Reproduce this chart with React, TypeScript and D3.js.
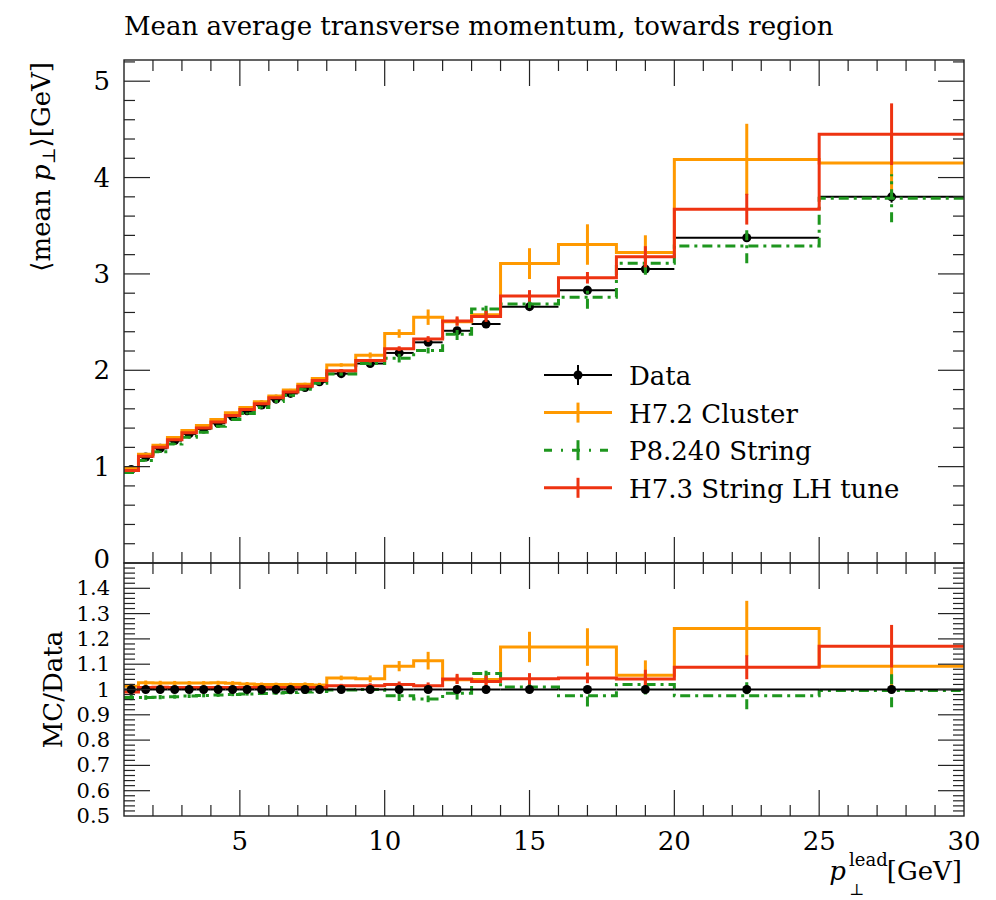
import React from "react";
import * as d3 from "d3";

// ---------- data ----------
const binEdges = [1, 1.5, 2, 2.5, 3, 3.5, 4, 4.5, 5, 5.5, 6, 6.5, 7, 7.5, 8, 9, 10, 11, 12, 13, 14, 16, 18, 20, 25, 30];

const dataValues = [0.97, 1.10, 1.19, 1.27, 1.34, 1.39, 1.45, 1.52, 1.58, 1.64, 1.70, 1.76, 1.82, 1.88, 1.965, 2.07, 2.18, 2.29, 2.41, 2.48, 2.66, 2.83, 3.05, 3.375, 3.80];
const dataErrors = [0.01, 0.008, 0.008, 0.008, 0.008, 0.008, 0.008, 0.008, 0.008, 0.008, 0.01, 0.01, 0.01, 0.01, 0.01, 0.012, 0.015, 0.018, 0.02, 0.022, 0.025, 0.03, 0.035, 0.04, 0.06];

const h72Values = [0.982, 1.129, 1.221, 1.303, 1.375, 1.426, 1.488, 1.558, 1.615, 1.673, 1.734, 1.795, 1.856, 1.914, 2.055, 2.157, 2.381, 2.551, 2.504, 2.577, 3.107, 3.305, 3.221, 4.188, 4.150];
const h72Errors = [0.01, 0.01, 0.01, 0.01, 0.01, 0.01, 0.012, 0.012, 0.012, 0.012, 0.012, 0.012, 0.015, 0.015, 0.018, 0.028, 0.044, 0.08, 0.04, 0.05, 0.16, 0.21, 0.18, 0.37, 0.30];

const p8Values = [0.939, 1.065, 1.154, 1.234, 1.305, 1.357, 1.418, 1.490, 1.552, 1.614, 1.676, 1.739, 1.802, 1.865, 1.961, 2.07, 2.126, 2.205, 2.374, 2.636, 2.687, 2.759, 3.111, 3.291, 3.785];
const p8Errors = [0.01, 0.01, 0.01, 0.01, 0.01, 0.01, 0.01, 0.01, 0.01, 0.01, 0.012, 0.012, 0.012, 0.012, 0.015, 0.02, 0.045, 0.03, 0.06, 0.07, 0.04, 0.12, 0.12, 0.18, 0.25];

const h73Values = [0.960, 1.109, 1.200, 1.280, 1.351, 1.401, 1.462, 1.532, 1.593, 1.653, 1.714, 1.774, 1.835, 1.895, 1.994, 2.101, 2.224, 2.324, 2.511, 2.559, 2.772, 2.960, 3.178, 3.672, 4.450];
const h73Errors = [0.008, 0.008, 0.008, 0.008, 0.008, 0.008, 0.008, 0.008, 0.01, 0.01, 0.01, 0.01, 0.01, 0.01, 0.015, 0.02, 0.025, 0.03, 0.048, 0.057, 0.06, 0.06, 0.11, 0.16, 0.32];

const xTickLabels = [5, 10, 15, 20, 25, 30];
const mainYTickLabels = [0, 1, 2, 3, 4, 5];
const ratioYTickLabels = [0.5, 0.6, 0.7, 0.8, 0.9, 1, 1.1, 1.2, 1.3, 1.4];

const titleText = "Mean average transverse momentum, towards region";
const legendLabels = ["Data", "H7.2 Cluster", "P8.240 String", "H7.3 String LH tune"];

// ---------- layout ----------
const W = 996;
const H = 900;
const L = 124;
const R = 964;
const MT = 60;
const MB = 563;
const RT = 563;
const RB = 816;
const FONT = "DejaVu Serif";
const FS = 26;
const RFS = 21;

const series = [
  { name: legendLabels[1], values: h72Values, errors: h72Errors, color: "#ff9900", dash: "" },
  { name: legendLabels[2], values: p8Values, errors: p8Errors, color: "#1e961e", dash: "10,5,3,5" },
  { name: legendLabels[3], values: h73Values, errors: h73Errors, color: "#ee3311", dash: "" },
];

function stepPath(values: number[], ys: d3.ScaleLinear<number, number>, xs: d3.ScaleLinear<number, number>) {
  const pts: [number, number][] = values.map((v, i) => [binEdges[i], v]);
  pts.push([binEdges[binEdges.length - 1], values[values.length - 1]]);
  const line = d3
    .line<[number, number]>()
    .x((d) => xs(d[0]))
    .y((d) => ys(d[1]))
    .curve(d3.curveStepAfter);
  return line(pts) || "";
}

export default function App() {
  const x = d3.scaleLinear().domain([1, 30]).range([L, R]);
  const y = d3.scaleLinear().domain([0, 5.22]).range([MB, MT]);
  const yr = d3.scaleLinear().domain([0.5, 1.5]).range([RB, RT]);

  const centers = dataValues.map((_, i) => (binEdges[i] + binEdges[i + 1]) / 2);

  const xMinor = d3.range(2, 30).filter((v) => v % 5 !== 0);
  const xMajor = [5, 10, 15, 20, 25];
  const yMinorMain = d3.range(0.2, 5.21, 0.2).filter((v) => Math.abs(v - Math.round(v)) > 0.01);
  const yMajorMain = [1, 2, 3, 4, 5];
  const yMinorRatio = d3.range(0.52, 1.5, 0.02).filter((v) => Math.abs(v * 10 - Math.round(v * 10)) > 0.01);
  const yMajorRatio = d3.range(0.6, 1.45, 0.1);

  const MINOR = 11;
  const MAJOR = 26;
  const tickStroke = "#222";

  const xTicks = (top: number, bottom: number, key: string) => (
    <g key={key} stroke={tickStroke} strokeWidth={1.2}>
      {xMinor.map((v) => (
        <g key={"m" + v}>
          <line x1={x(v)} x2={x(v)} y1={bottom} y2={bottom - MINOR} />
          <line x1={x(v)} x2={x(v)} y1={top} y2={top + MINOR} />
        </g>
      ))}
      {xMajor.map((v) => (
        <g key={"M" + v}>
          <line x1={x(v)} x2={x(v)} y1={bottom} y2={bottom - MAJOR} />
          <line x1={x(v)} x2={x(v)} y1={top} y2={top + MAJOR} />
        </g>
      ))}
    </g>
  );

  const yTicks = (scale: d3.ScaleLinear<number, number>, minor: number[], major: number[], key: string) => (
    <g key={key} stroke={tickStroke} strokeWidth={1.2}>
      {minor.map((v, i) => (
        <g key={"m" + i}>
          <line x1={L} x2={L + MINOR} y1={scale(v)} y2={scale(v)} />
          <line x1={R} x2={R - MINOR} y1={scale(v)} y2={scale(v)} />
        </g>
      ))}
      {major.map((v, i) => (
        <g key={"M" + i}>
          <line x1={L} x2={L + MAJOR} y1={scale(v)} y2={scale(v)} />
          <line x1={R} x2={R - MAJOR} y1={scale(v)} y2={scale(v)} />
        </g>
      ))}
    </g>
  );

  const dataRatio = dataValues.map(() => 1);
  const dataRatioErr = dataErrors.map((e, i) => e / dataValues[i]);

  const legendY0 = 375;
  const legendDy = 37.6;

  return (
    <svg
      width={W}
      height={H}
      viewBox={`0 0 ${W} ${H}`}
      style={{ position: "absolute", left: 0, top: 0, background: "#fff" }}
      fontFamily={FONT}
      fontSize={FS}
    >
      <rect x={0} y={0} width={W} height={H} fill="#fff" />
      <text x={L} y={35} fill="#000">{titleText}</text>

      {/* ---------------- main panel ---------------- */}
      <g>
        {dataValues.map((v, i) => (
          <g key={"d" + i}>
            <line x1={x(binEdges[i])} x2={x(binEdges[i + 1])} y1={y(v)} y2={y(v)} stroke="#000" strokeWidth={2} />
            <line x1={x(centers[i])} x2={x(centers[i])} y1={y(v - dataErrors[i])} y2={y(v + dataErrors[i])} stroke="#000" strokeWidth={2} />
            <circle cx={x(centers[i])} cy={y(v)} r={4.5} fill="#000" />
          </g>
        ))}
      </g>
      {series.map((s) => (
        <g key={s.name}>
          <path d={stepPath(s.values, y, x)} fill="none" stroke={s.color} strokeWidth={3} strokeDasharray={s.dash || undefined} strokeLinejoin="miter" />
          {s.values.map((v, i) => (
            <line
              key={i}
              x1={x(centers[i])}
              x2={x(centers[i])}
              y1={y(v - s.errors[i])}
              y2={y(v + s.errors[i])}
              stroke={s.color}
              strokeWidth={3}
              strokeDasharray={s.dash || undefined}
            />
          ))}
        </g>
      ))}

      {xTicks(MT, MB, "xtm")}
      {yTicks(y, yMinorMain, yMajorMain, "ytm")}
      <rect x={L} y={MT} width={R - L} height={MB - MT} fill="none" stroke="#222" strokeWidth={1.4} />

      {mainYTickLabels.map((v) => (
        <text key={"yl" + v} x={110} y={v === 0 ? y(v) - 4 : y(v)} textAnchor="end" dominantBaseline="central" fill="#000">
          {v}
        </text>
      ))}

      {/* y axis label */}
      <text transform={`translate(50, 62) rotate(-90)`} textAnchor="end" fill="#000">
        <tspan>⟨mean </tspan>
        <tspan fontStyle="italic">p</tspan>
        <tspan fontSize={18} dy={5}>⊥</tspan>
        <tspan dy={-5}>⟩[GeV]</tspan>
      </text>

      {/* legend */}
      <g>
        {legendLabels.map((name, i) => {
          const ly = legendY0 + i * legendDy;
          const s = i === 0 ? null : series[i - 1];
          const color = s ? s.color : "#000";
          return (
            <g key={"lg" + i}>
              <line x1={544} x2={612} y1={ly} y2={ly} stroke={color} strokeWidth={i === 0 ? 2 : 3} strokeDasharray={s && s.dash ? "8,9,2,9" : undefined} />
              <line x1={578} x2={578} y1={ly - 10} y2={ly + 10} stroke={color} strokeWidth={i === 0 ? 2 : 3} />
              {i === 0 && <circle cx={578} cy={ly} r={4.5} fill="#000" />}
              <text x={629} y={ly + 10} fill="#000">{name}</text>
            </g>
          );
        })}
      </g>

      {/* ---------------- ratio panel ---------------- */}
      {series.map((s) => {
        const r = s.values.map((v, i) => v / dataValues[i]);
        const re = s.errors.map((e, i) => e / dataValues[i]);
        return (
          <g key={"r" + s.name}>
            <path d={stepPath(r, yr, x)} fill="none" stroke={s.color} strokeWidth={3} strokeDasharray={s.dash || undefined} />
            {r.map((v, i) => (
              <line
                key={i}
                x1={x(centers[i])}
                x2={x(centers[i])}
                y1={yr(v - re[i])}
                y2={yr(v + re[i])}
                stroke={s.color}
                strokeWidth={3}
                strokeDasharray={s.dash || undefined}
              />
            ))}
          </g>
        );
      })}
      <g>
        {dataRatio.map((v, i) => (
          <g key={"dr" + i}>
            <line x1={x(binEdges[i])} x2={x(binEdges[i + 1])} y1={yr(v)} y2={yr(v)} stroke="#000" strokeWidth={2} />
            <line x1={x(centers[i])} x2={x(centers[i])} y1={yr(v - dataRatioErr[i])} y2={yr(v + dataRatioErr[i])} stroke="#000" strokeWidth={2} />
            <circle cx={x(centers[i])} cy={yr(v)} r={4.5} fill="#000" />
          </g>
        ))}
      </g>

      {xTicks(RT, RB, "xtr")}
      {yTicks(yr, yMinorRatio, yMajorRatio, "ytr")}
      <rect x={L} y={RT} width={R - L} height={RB - RT} fill="none" stroke="#222" strokeWidth={1.4} />

      {ratioYTickLabels.map((v) => (
        <text key={"rl" + v} x={110} y={yr(v)} textAnchor="end" dominantBaseline="central" fill="#000" fontSize={RFS}>
          {v}
        </text>
      ))}
      <text transform={`translate(62, ${yr(1)}) rotate(-90)`} textAnchor="middle" fill="#000">
        MC/Data
      </text>

      {xTickLabels.map((v) => (
        <text key={"xl" + v} x={x(v)} y={841} textAnchor="middle" dominantBaseline="central" fill="#000">
          {v}
        </text>
      ))}

      {/* x axis label */}
      <g fill="#000">
        <text x={962} y={880} textAnchor="end">[GeV]</text>
        <text x={849} y={866} textAnchor="start" fontSize={18}>lead</text>
        <text x={846} y={880} textAnchor="end" fontStyle="italic">p</text>
        <text x={849} y={895} textAnchor="start" fontSize={16}>⊥</text>
      </g>
    </svg>
  );
}
